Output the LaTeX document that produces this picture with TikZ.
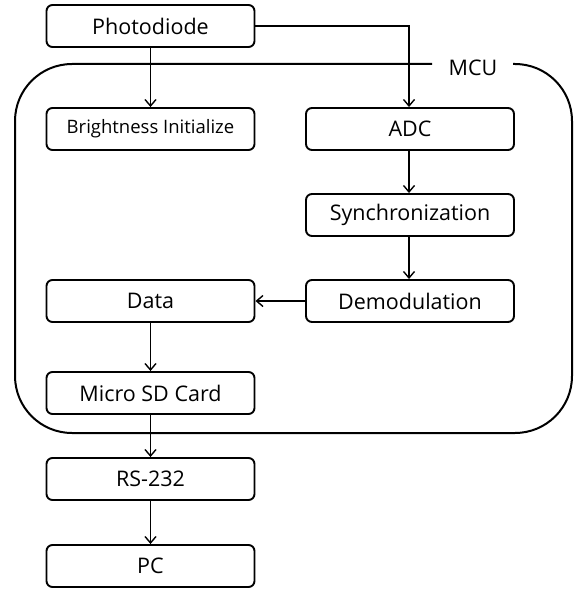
\documentclass[tikz,border=0pt]{standalone}
\usepackage{fontspec}
\setmainfont{Open Sans}
\usetikzlibrary{arrows.meta}

\tikzset{
  block/.style={draw, line width=1.9bp, rounded corners=6bp,
    minimum width=208bp, minimum height=42bp, inner sep=0pt,
    font=\fontsize{21.5bp}{25bp}\selectfont},
  smallblock/.style={block, font=\fontsize{18.5bp}{22bp}\selectfont},
  flow/.style={line width=1.4bp, -{Straight Barb[length=6.5bp,width=11bp,line width=1.4bp]}},
  frame/.style={line width=2bp, rounded corners=57bp}
}

\begin{document}
\begin{tikzpicture}[x=1bp,y=-1bp]
  \useasboundingbox (0,0) rectangle (576,590);

  % MCU enclosure, open at the top for its label
  \draw[frame] (432,64) -- (15,64) -- (15,433) -- (572,433) -- (572,64) -- (513,64);
  \node[font=\fontsize{21.5bp}{25bp}\selectfont, inner sep=0pt] (mcu) at (473,68) {MCU};

  % blocks
  \node[block]      (pd)    at (150.5,26)  {Photodiode};
  \node[smallblock] (bi)    at (150.5,129) {Brightness Initialize};
  \node[block]      (adc)   at (410,129)   {ADC};
  \node[block]      (sync)  at (410,215)   {Synchronization};
  \node[block]      (demod) at (410,301)   {Demodulation};
  \node[block]      (data)  at (150.5,301) {Data};
  \node[block]      (sd)    at (150.5,393) {Micro SD Card};
  \node[block]      (rs)    at (150.5,479) {RS-232};
  \node[block]      (pc)    at (150.5,566) {PC};

  % signal flow
  \draw[flow] (pd) -- (bi);
  \draw[flow] (pd.east) -| ([xshift=-1bp]adc.north);
  \draw[flow] ([xshift=-1bp]adc.south) -- ([xshift=-1bp]sync.north);
  \draw[flow] ([xshift=-1bp]sync.south) -- ([xshift=-1bp]demod.north);
  \draw[flow] (demod) -- (data);
  \draw[flow] (data) -- (sd);
  \draw[flow] (sd) -- (rs);
  \draw[flow] (rs) -- (pc);
\end{tikzpicture}
\end{document}
